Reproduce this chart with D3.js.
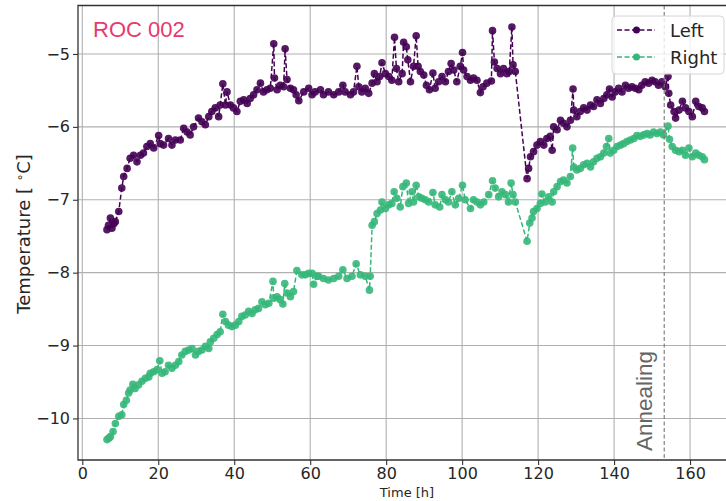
<!DOCTYPE html>
<html>
<head>
<meta charset="utf-8">
<script src="https://d3js.org/d3.v7.min.js"></script>
<style>
    body { margin: 0; background: #fff; }
    svg { display: block; }
    text { font-family: "DejaVu Sans", sans-serif; fill: #262626; }
</style>
</head>
<body>
<div id="chart"></div>
<script>
// left sensor readings, time [h] / temperature [C]
var leftTime = [6.5, 6.9, 7.4, 7.8, 8.3, 8.7, 9.6, 10.4, 10.9, 11.8, 12.6, 13.5, 14.4, 15.3, 16.1, 17.0, 17.9, 18.8, 20.1, 20.5,
    21.4, 22.7, 23.6, 24.5, 25.8, 26.7, 27.6, 28.4, 29.3, 30.6, 31.5, 32.4, 33.3, 34.1, 35.0, 35.9, 36.3, 37.0, 37.7, 38.1,
    39.0, 39.8, 40.7, 41.6, 42.5, 43.4, 44.2, 45.1, 46.0, 46.9, 47.7, 48.6, 49.5, 50.4, 50.6, 51.3, 52.1, 53.0, 53.4, 53.9,
    54.8, 55.6, 56.3, 57.0, 58.3, 59.6, 60.5, 61.3, 62.7, 63.5, 64.8, 66.2, 67.5, 68.6, 69.2, 70.6, 71.4, 72.3, 72.8, 73.6,
    74.5, 75.4, 76.3, 76.9, 77.6, 78.3, 78.9, 79.8, 80.7, 81.5, 82.2, 82.7, 83.3, 84.2, 84.6, 85.3, 85.7, 86.4, 87.2, 87.9,
    88.4, 89.0, 89.9, 90.6, 91.4, 92.3, 92.9, 93.8, 94.7, 95.6, 96.4, 97.1, 97.8, 98.6, 99.5, 100.1, 100.4, 101.3, 102.2, 103.0,
    103.9, 104.8, 105.5, 106.5, 107.7, 108.0, 108.5, 109.2, 110.1, 110.9, 111.8, 112.4, 113.1, 113.4, 114.0, 117.1, 117.5, 118.0, 118.8, 119.7,
    120.6, 121.5, 122.3, 123.2, 123.7, 124.1, 125.0, 125.9, 126.7, 127.6, 128.5, 129.2, 129.4, 130.2, 131.1, 132.0, 132.9, 133.8, 134.6, 135.5,
    136.4, 137.3, 138.1, 138.8, 139.5, 140.3, 141.2, 142.1, 143.0, 143.8, 144.7, 145.6, 146.5, 147.3, 148.2, 149.1, 150.0, 150.8, 151.7, 152.6,
    153.5, 154.2, 154.4, 154.9, 155.8, 156.2, 157.1, 158.0, 158.8, 159.7, 160.6, 161.5, 162.3, 163.2, 163.8];
var leftTemp = [-7.41, -7.35, -7.25, -7.39, -7.33, -7.30, -7.16, -6.84, -6.68, -6.57, -6.43, -6.39, -6.48, -6.39, -6.36, -6.27, -6.23, -6.29, -6.12, -6.23,
    -6.25, -6.16, -6.25, -6.18, -6.18, -6.02, -6.07, -6.11, -6.00, -5.88, -5.93, -5.97, -5.86, -5.79, -5.74, -5.86, -5.70, -5.41, -5.70, -5.52,
    -5.70, -5.74, -5.79, -5.65, -5.63, -5.68, -5.61, -5.56, -5.49, -5.40, -5.52, -5.49, -5.47, -4.86, -5.33, -5.49, -5.43, -5.45, -4.93, -5.35,
    -5.47, -5.49, -5.56, -5.64, -5.52, -5.47, -5.56, -5.52, -5.49, -5.56, -5.52, -5.56, -5.52, -5.43, -5.52, -5.56, -5.52, -5.17, -5.45, -5.52,
    -5.47, -5.54, -5.40, -5.27, -5.38, -5.31, -5.12, -5.27, -5.31, -5.36, -4.77, -5.20, -5.38, -5.27, -4.84, -4.90, -5.08, -5.38, -5.17, -4.75,
    -5.17, -5.24, -5.29, -5.43, -5.49, -5.26, -5.47, -5.38, -5.31, -5.38, -5.24, -5.13, -5.22, -5.38, -5.17, -4.98, -5.22, -5.31, -5.36, -5.33,
    -5.36, -5.53, -5.45, -5.40, -5.37, -4.68, -5.11, -5.20, -5.27, -5.20, -5.27, -5.24, -4.63, -5.15, -5.24, -6.71, -6.57, -6.41, -6.34, -6.25,
    -6.20, -6.25, -6.16, -6.13, -6.32, -6.00, -6.04, -5.91, -5.95, -6.00, -5.91, -5.48, -5.77, -5.86, -5.79, -5.74, -5.77, -5.70, -5.72, -5.63,
    -5.68, -5.61, -5.56, -5.48, -5.59, -5.52, -5.47, -5.52, -5.43, -5.47, -5.45, -5.47, -5.49, -5.43, -5.38, -5.40, -5.36, -5.38, -5.43, -5.38,
    -5.45, -5.31, -5.54, -5.70, -5.79, -5.88, -5.77, -5.65, -5.74, -5.79, -5.86, -5.65, -5.72, -5.74, -5.79];

// right sensor readings
var rightTime = [6.5, 7.0, 7.4, 8.1, 8.7, 9.6, 10.4, 10.9, 11.6, 12.2, 12.6, 13.3, 13.9, 14.8, 15.7, 16.6, 17.5, 17.9, 18.8, 19.7,
    20.4, 21.0, 21.8, 22.7, 23.6, 24.5, 25.4, 26.2, 27.1, 28.0, 28.9, 29.8, 30.6, 31.5, 32.4, 33.3, 33.7, 34.6, 35.5, 36.3,
    37.0, 37.7, 38.5, 39.4, 40.3, 41.2, 42.0, 42.9, 43.8, 44.7, 45.5, 46.4, 47.3, 48.2, 49.1, 50.2, 50.4, 51.3, 52.1, 52.8,
    53.3, 53.9, 54.8, 55.6, 56.5, 57.8, 58.7, 59.6, 60.5, 60.9, 61.8, 62.2, 63.5, 64.8, 66.2, 67.5, 68.6, 69.7, 71.0, 72.1,
    73.2, 74.5, 75.6, 75.8, 76.3, 76.9, 77.6, 78.5, 78.9, 79.8, 80.7, 81.5, 82.1, 82.8, 83.7, 84.4, 85.3, 85.9, 86.8, 87.2,
    87.9, 88.6, 89.4, 90.3, 91.2, 92.3, 92.9, 94.1, 94.7, 95.6, 96.4, 97.3, 98.2, 99.1, 100.1, 100.8, 102.2, 103.0, 103.9, 104.8,
    105.7, 107.0, 108.0, 108.7, 109.6, 110.5, 111.4, 112.2, 112.9, 113.4, 114.0, 117.1, 117.8, 118.4, 118.8, 119.7, 120.6, 121.0, 121.9, 122.8,
    123.7, 124.1, 125.0, 125.9, 126.7, 127.6, 128.5, 129.1, 129.4, 130.2, 131.1, 132.0, 132.9, 133.8, 134.6, 135.5, 136.4, 137.3, 138.0, 138.6,
    139.0, 139.9, 140.8, 141.7, 142.5, 143.4, 144.3, 145.2, 146.0, 146.9, 147.8, 148.7, 149.5, 150.4, 151.3, 152.2, 153.0, 154.2, 154.6, 155.3,
    156.2, 157.1, 158.0, 158.8, 159.7, 160.6, 161.5, 162.3, 163.2, 163.8];
var rightTemp = [-10.29, -10.27, -10.25, -10.18, -10.07, -9.97, -9.95, -9.81, -9.75, -9.65, -9.61, -9.53, -9.59, -9.54, -9.49, -9.45, -9.43, -9.38, -9.36, -9.33,
    -9.21, -9.38, -9.36, -9.27, -9.31, -9.27, -9.22, -9.13, -9.08, -9.06, -9.04, -9.13, -9.08, -9.06, -9.01, -9.04, -8.95, -8.90, -8.85, -8.81,
    -8.57, -8.67, -8.72, -8.74, -8.72, -8.67, -8.60, -8.58, -8.53, -8.56, -8.51, -8.49, -8.40, -8.44, -8.42, -8.12, -8.35, -8.33, -8.37, -8.43,
    -8.15, -8.28, -8.33, -8.26, -7.97, -8.03, -8.03, -8.01, -8.01, -8.16, -8.05, -8.05, -8.08, -8.10, -8.08, -8.05, -7.96, -8.08, -8.05, -7.88,
    -8.03, -8.05, -8.24, -8.05, -7.35, -7.30, -7.19, -7.14, -7.03, -7.12, -7.07, -7.05, -6.89, -6.98, -7.10, -6.82, -6.77, -7.05, -6.89, -7.03,
    -6.80, -6.96, -6.98, -7.00, -7.03, -6.90, -7.07, -7.10, -6.93, -7.00, -7.03, -6.89, -7.07, -6.98, -6.80, -7.00, -7.12, -7.00, -7.03, -7.07,
    -7.03, -6.93, -6.74, -6.84, -6.96, -6.89, -6.93, -7.03, -6.77, -6.93, -7.03, -7.57, -7.32, -7.25, -7.16, -7.12, -7.05, -6.92, -7.03, -6.96,
    -7.03, -6.89, -6.82, -6.75, -6.73, -6.77, -6.68, -6.29, -6.55, -6.59, -6.57, -6.52, -6.50, -6.55, -6.48, -6.43, -6.41, -6.36, -6.27, -6.16,
    -6.36, -6.32, -6.27, -6.25, -6.23, -6.20, -6.18, -6.16, -6.12, -6.13, -6.11, -6.09, -6.11, -6.07, -6.09, -6.07, -6.11, -5.99, -6.17, -6.27,
    -6.32, -6.34, -6.32, -6.39, -6.29, -6.41, -6.36, -6.39, -6.41, -6.45];

var xTicks = [0, 20, 40, 60, 80, 100, 120, 140, 160];
var yTicks = [-10, -9, -8, -7, -6, -5];
var seriesNames = ["Left", "Right"];
var seriesColors = ["#440154", "#35b779"];
var annealingTime = 153.2;

var width = 726,
    height = 501;
var plot = { left: 78, right: 736, top: 5.5, bottom: 460 };
var markerRadius = 3.8;

var svg = d3.select("#chart")
    .append("svg")
    .attr("width", width)
    .attr("height", height);

var x = d3.scaleLinear()
    .domain([-1.13, 172.1])
    .range([plot.left, plot.right]);
var y = d3.scaleLinear()
    .domain([-10.57, -4.335])
    .range([plot.bottom, plot.top]);

svg.append("clipPath")
    .attr("id", "plot-clip")
    .append("rect")
    .attr("x", plot.left)
    .attr("y", plot.top)
    .attr("width", plot.right - plot.left)
    .attr("height", plot.bottom - plot.top);

// grid
var grid = svg.append("g").attr("class", "grid");
grid.selectAll("line.gx")
    .data(xTicks)
    .enter().append("line")
    .attr("x1", function (d) { return x(d); })
    .attr("x2", function (d) { return x(d); })
    .attr("y1", plot.top)
    .attr("y2", plot.bottom);
grid.selectAll("line.gy")
    .data(yTicks)
    .enter().append("line")
    .attr("x1", plot.left)
    .attr("x2", plot.right)
    .attr("y1", function (d) { return y(d); })
    .attr("y2", function (d) { return y(d); });
grid.selectAll("line")
    .style("stroke", "#b0b0b0")
    .style("stroke-width", 1.1);

var series = [
    { name: seriesNames[0], color: seriesColors[0], t: leftTime, v: leftTemp },
    { name: seriesNames[1], color: seriesColors[1], t: rightTime, v: rightTemp }
];

var line = d3.line()
    .x(function (d) { return x(d[0]); })
    .y(function (d) { return y(d[1]); });

var data = svg.append("g").attr("clip-path", "url(#plot-clip)");

series.forEach(function (s) {
    var pts = s.t.map(function (t, i) { return [t, s.v[i]]; });
    var g = data.append("g");
    g.append("path")
        .datum(pts)
        .attr("d", line)
        .style("fill", "none")
        .style("stroke", s.color)
        .style("stroke-width", 1.5)
        .style("stroke-dasharray", "5,2.5");
    g.selectAll("circle")
        .data(pts)
        .enter().append("circle")
        .attr("cx", function (d) { return x(d[0]); })
        .attr("cy", function (d) { return y(d[1]); })
        .attr("r", markerRadius)
        .style("fill", s.color)
        .style("fill-opacity", 0.9);
});

// annealing marker
data.append("line")
    .attr("x1", x(annealingTime))
    .attr("x2", x(annealingTime))
    .attr("y1", plot.top)
    .attr("y2", plot.bottom)
    .style("stroke", "#777")
    .style("stroke-width", 1.1)
    .style("stroke-dasharray", "4,2.5");

svg.append("text")
    .attr("transform", "translate(" + (x(annealingTime) - 12) + ",451) rotate(-90)")
    .style("font-family", "'Liberation Sans', Arial, sans-serif")
    .style("font-size", "22.5px")
    .style("fill", "#666")
    .text("Annealing");

svg.append("text")
    .attr("x", 93)
    .attr("y", 37.3)
    .style("font-family", "'Liberation Sans', Arial, sans-serif")
    .style("font-size", "22px")
    .style("fill", "#e8396c")
    .text("ROC 002");

// axes
var xAxis = svg.append("g")
    .attr("transform", "translate(0," + plot.bottom + ")")
    .call(d3.axisBottom(x).tickValues(xTicks).tickSize(5).tickPadding(3).tickFormat(d3.format("d")));
var yAxis = svg.append("g")
    .attr("transform", "translate(" + plot.left + ",0)")
    .call(d3.axisLeft(y).tickValues(yTicks).tickSize(5).tickPadding(3).tickFormat(function (d) {
        return String(d).replace("-", "\u2212");
    }));
[xAxis, yAxis].forEach(function (a) {
    a.select(".domain").remove();
    a.selectAll(".tick line").style("stroke", "#333").style("stroke-width", 1.1);
    a.selectAll(".tick text")
        .style("font-family", "'DejaVu Sans', sans-serif")
        .style("font-size", "16px")
        .style("fill", "#262626");
});

// spines
svg.append("path")
    .attr("d", "M" + plot.right + "," + plot.top + "H" + plot.left + "V" + plot.bottom + "H" + plot.right)
    .style("fill", "none")
    .style("stroke", "#333")
    .style("stroke-width", 1.3);

svg.append("text")
    .attr("x", (plot.left + plot.right) / 2)
    .attr("y", 497)
    .attr("text-anchor", "middle")
    .style("font-size", "13px")
    .text("Time [h]");

var ylab = svg.append("text")
    .attr("transform", "translate(30,234) rotate(-90)")
    .attr("text-anchor", "middle")
    .style("font-size", "18px");
ylab.append("tspan").text("Temperature [ ");
ylab.append("tspan").attr("dy", -6).style("font-size", "12px").text("\u2218");
ylab.append("tspan").attr("dy", 6).text("C]");

// legend
var legend = svg.append("g");
legend.append("rect")
    .attr("x", 612)
    .attr("y", 16)
    .attr("width", 112)
    .attr("height", 58)
    .attr("rx", 4)
    .style("fill", "#fff")
    .style("fill-opacity", 0.8)
    .style("stroke", "#d6d6d6")
    .style("stroke-width", 1);
var items = legend.selectAll("g.item")
    .data(series)
    .enter().append("g")
    .attr("transform", function (d, i) { return "translate(0," + (30 + i * 27) + ")"; });
items.append("line")
    .attr("x1", 617)
    .attr("x2", 655)
    .style("stroke", function (d) { return d.color; })
    .style("stroke-width", 1.5)
    .style("stroke-dasharray", "5,2.5");
items.append("circle")
    .attr("cx", 636.5)
    .attr("r", 3.5)
    .style("fill", function (d) { return d.color; });
items.append("text")
    .attr("x", 670)
    .attr("y", 6.5)
    .style("font-size", "18px")
    .text(function (d) { return d.name; });
</script>
</body>
</html>
